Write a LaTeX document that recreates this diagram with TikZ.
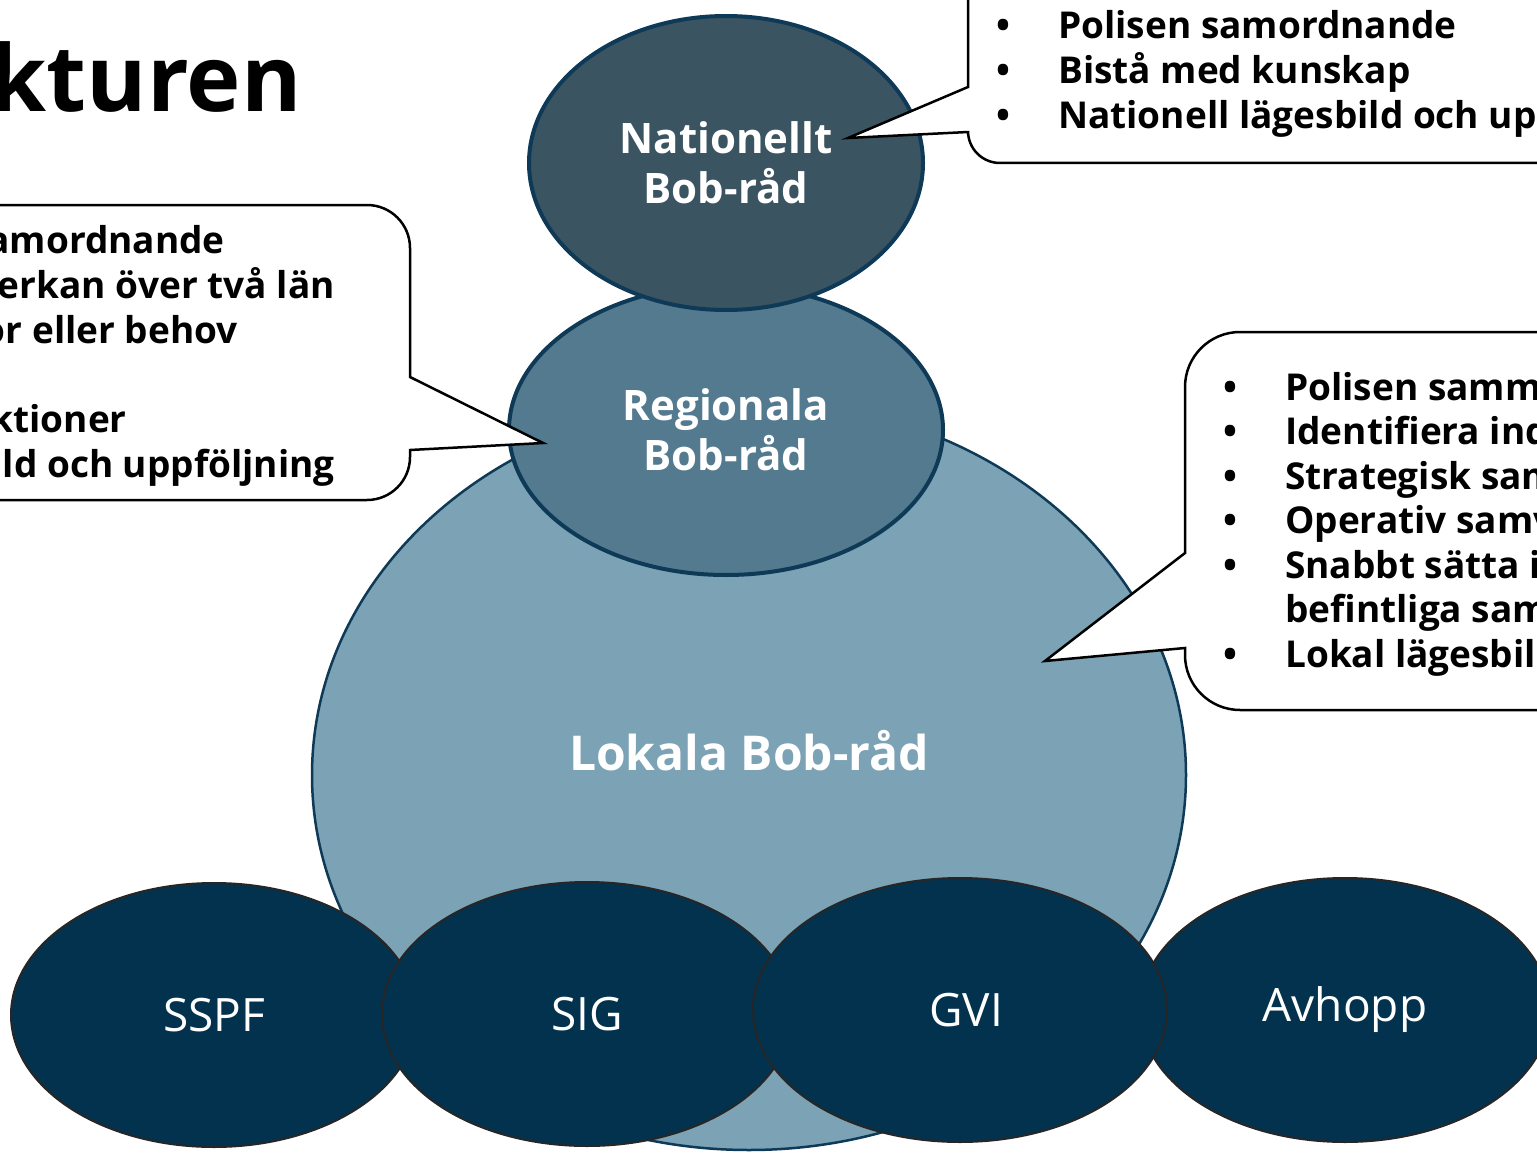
\documentclass[tikz,border=0pt]{standalone}
\usepackage{fontspec}
\setmainfont{Open Sans}
\usetikzlibrary{shapes.geometric}

\definecolor{bobedge}{HTML}{0E3A58}
\definecolor{natfill}{HTML}{3A5461}
\definecolor{regfill}{HTML}{537A8E}
\definecolor{lokfill}{HTML}{7BA3B5}
\definecolor{gruppfill}{HTML}{03324F}

\tikzset{
  bob/.style={ellipse, draw=bobedge, line width=4pt, text=white, align=center,
    inner sep=0pt, font=\bfseries\fontsize{42}{50}\selectfont},
  grupp/.style={ellipse, draw=black!85, line width=2pt, fill=gruppfill, text=white,
    inner sep=0pt, font=\fontsize{46}{55}\selectfont},
  bubbla/.style={draw=black, line width=2.5pt, fill=white},
  punkt/.style={inner sep=0pt, anchor=base west, font=\bfseries\fontsize{37}{45}\selectfont},
}

\begin{document}
\begin{tikzpicture}[x=1pt,y=-1pt]
  \useasboundingbox (0,0) rectangle (1537,1153);
  % the three levels
  \node[bob, fill=lokfill, line width=2.5pt, minimum width=874pt, minimum height=750pt] (lokala) at (749,775) {};
  \node[bob, fill=regfill, minimum width=434pt, minimum height=290pt] (regionala) at (726,430) {Regionala\\Bob-råd};
  \node[bob, fill=natfill, minimum width=394pt, minimum height=294pt] (nationellt) at (726,163) {Nationellt\\Bob-råd};
  \node[text=white, font=\bfseries\fontsize{48}{56}\selectfont] (lokaltext) at (749,751) {Lokala Bob-råd};
  % groups at the bottom
  \node[grupp, minimum width=406pt, minimum height=264pt] (sspf) at (214,1015) {SSPF};
  \node[grupp, minimum width=410pt, minimum height=264pt] (sig) at (587,1014) {SIG};
  \node[grupp, minimum width=410pt, minimum height=264pt] (avhopp) at (1345,1010) {Avhopp};
  \node[grupp, minimum width=414pt, minimum height=264pt] (gvi) at (960,1010) {\hspace{12pt}GVI};

  % callouts
  \coordinate (natspets) at (848,138);
  \coordinate (regspets) at (543,443);
  \coordinate (lokspets) at (1045,661);
  \draw[bubbla] (1600,163) [rounded corners=32pt] -- (968,163) [sharp corners] -- (968,132)
    -- (natspets) -- (968,87) [rounded corners=32pt] -- (968,-60) -- (1600,-60) -- cycle;
  \draw[bubbla] (-60,205) [rounded corners=43pt] -- (410,205) [sharp corners] -- (410,377)
    -- (regspets) -- (410,450) [rounded corners=43pt] -- (410,500) -- (-60,500) -- cycle;
  \draw[bubbla] (1600,710) [rounded corners=55pt] -- (1185,710) [sharp corners] -- (1185,648)
    -- (lokspets) -- (1185,553) [rounded corners=55pt] -- (1185,332) -- (1600,332) -- cycle;

  \node[inner sep=0pt, anchor=base east, font=\bfseries\fontsize{92}{100}\selectfont] (rubrik) at (302,112) {kturen};

  \foreach \t [count=\i from 0] in {Polisen samordnande, Bistå med kunskap, Nationell lägesbild och up}{
    \node[punkt] (nat\i) at (1058,39+45*\i) {\t};
    \node[punkt, anchor=base] (natb\i) at (1003,39+45*\i) {•};
  }
  \foreach \y/\x/\t [count=\i] in {253/225/amordnande, 298/335/erkan över två län,
      343/238/or eller behov, 432/127/ktioner, 477/335/ld och uppföljning}{
    \node[punkt, anchor=base east] (reg\i) at (\x,\y) {\t};
  }
  \foreach \t [count=\i from 0] in {Polisen samm, Identifiera ind, Strategisk sam,
      Operativ samv, Snabbt sätta i, befintliga sam, Lokal lägesbil}{
    \node[punkt] (lok\i) at (1285,400+44.5*\i) {\t};
  }
  \foreach \i in {0,1,2,3,4,6}
    \node[punkt, anchor=base] (lokb\i) at (1230,400+44.5*\i) {•};
\end{tikzpicture}
\end{document}
